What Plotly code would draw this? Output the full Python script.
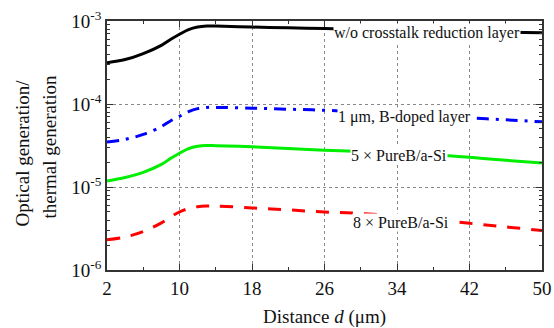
import math
import plotly.graph_objects as go

distance = [2, 4, 6, 8, 9, 10, 11, 12, 13, 14, 18, 22, 26, 30, 34, 38, 42, 46, 50]
no_layer = [3.15e-4, 3.43e-4, 4.05e-4, 5.09e-4, 5.97e-4, 6.92e-4, 7.88e-4, 8.47e-4, 8.7e-4, 8.7e-4,
            8.45e-4, 8.28e-4, 8.12e-4, 7.95e-4, 7.8e-4, 7.65e-4, 7.5e-4, 7.35e-4, 7.2e-4]
b_doped = [3.49e-5, 3.75e-5, 4.3e-5, 5.35e-5, 6.25e-5, 7.1e-5, 8.1e-5, 8.8e-5, 9.1e-5, 9.1e-5,
           8.9e-5, 8.65e-5, 8.4e-5, 8.0e-5, 7.6e-5, 7.2e-5, 6.8e-5, 6.45e-5, 6.1e-5]
pureb5 = [1.18e-5, 1.3e-5, 1.5e-5, 1.87e-5, 2.2e-5, 2.55e-5, 2.9e-5, 3.1e-5, 3.17e-5, 3.15e-5,
          3.05e-5, 2.9e-5, 2.77e-5, 2.68e-5, 2.58e-5, 2.45e-5, 2.28e-5, 2.1e-5, 1.95e-5]
pureb8 = [2.32e-6, 2.5e-6, 2.9e-6, 3.7e-6, 4.35e-6, 5.0e-6, 5.5e-6, 5.8e-6, 5.9e-6, 5.9e-6,
          5.6e-6, 5.3e-6, 5.0e-6, 4.8e-6, 4.45e-6, 4.05e-6, 3.65e-6, 3.3e-6, 3.0e-6]

labels = ["w/o crosstalk reduction layer", "1 μm, B-doped layer",
          "5 × PureB/a-Si", "8 × PureB/a-Si"]
label_x = [37.3, 34.85, 34.24, 34.4]
label_y = [7.1e-4, 6.9e-5, 2.41e-5, 3.76e-6]

x_ticks = [2, 10, 18, 26, 34, 42, 50]
y_ticks = [1e-6, 1e-5, 1e-4, 1e-3]
y_ticktext = ["10<sup>-6</sup>", "10<sup>-5</sup>", "10<sup>-4</sup>", "10<sup>-3</sup>"]
y_title_lines = ["Optical generation/", "thermal generation"]
x_title = "Distance <i>d</i> (μm)"

FONT = "Liberation Serif, Times New Roman, serif"

fig = go.Figure()
styles = [
    dict(color="#000000", width=3, dash="solid"),
    dict(color="#0000ff", width=3, dash="12px,7px,3px,7px"),
    dict(color="#00ee00", width=3, dash="solid"),
    dict(color="#ff0000", width=3, dash="13px,11px"),
]
for ys, st in zip([no_layer, b_doped, pureb5, pureb8], styles):
    fig.add_trace(go.Scatter(x=distance, y=ys, mode="lines",
                             line=dict(shape="spline", smoothing=1.0, **st),
                             showlegend=False, hoverinfo="skip"))

for t, lx, ly in zip(labels, label_x, label_y):
    fig.add_annotation(x=lx, y=math.log10(ly), text=t, showarrow=False,
                       font=dict(family=FONT, size=16, color="#111"),
                       bgcolor="white", borderpad=0, xanchor="center", yanchor="middle")

# two-line y-axis title
for line, xs, ys in zip(y_title_lines, [-85.5, -58], [-7.5, -2]):
    fig.add_annotation(x=0, y=0.5, xref="paper", yref="paper", text=line,
                       textangle=-90, showarrow=False, xanchor="center", yanchor="middle",
                       xshift=xs, yshift=ys,
                       font=dict(family=FONT, size=19, color="#111"))

# x-axis title
fig.add_annotation(x=0.5, y=0, xref="paper", yref="paper", text=x_title,
                   showarrow=False, xanchor="center", yanchor="middle", yshift=-47,
                   font=dict(family=FONT, size=19, color="#111"))

fig.update_layout(
    width=554, height=328,
    margin=dict(l=107, r=12, t=21, b=58, autoexpand=False),
    paper_bgcolor="white", plot_bgcolor="white",
    font=dict(family=FONT, size=19, color="#111"),
)
fig.update_xaxes(
    range=[2, 50], tickmode="array", tickvals=x_ticks,
    ticks="inside", ticklen=6, tickcolor="#333",
    showline=True, linecolor="#333", linewidth=1.5, mirror="ticks",
    showgrid=True, gridcolor="#888", griddash="dot", gridwidth=1,
    zeroline=False, automargin=False,
    minor=dict(dtick=4, tick0=2, ticks="inside", ticklen=3, tickcolor="#333", showgrid=False),
    tickfont=dict(size=19),
)
fig.update_yaxes(
    type="log", range=[-6, -3], tickmode="array", tickvals=y_ticks, ticktext=y_ticktext,
    ticks="inside", ticklen=6, tickcolor="#333",
    showline=True, linecolor="#333", linewidth=1.5, mirror="ticks",
    showgrid=True, gridcolor="#888", griddash="dot", gridwidth=1,
    zeroline=False, automargin=False,
    minor=dict(dtick="D1", ticks="inside", ticklen=3, tickcolor="#333", showgrid=False),
    tickfont=dict(size=19),
)

fig.write_html("out.html", config={"displayModeBar": False},
               post_script="document.body.style.margin='0px';")
